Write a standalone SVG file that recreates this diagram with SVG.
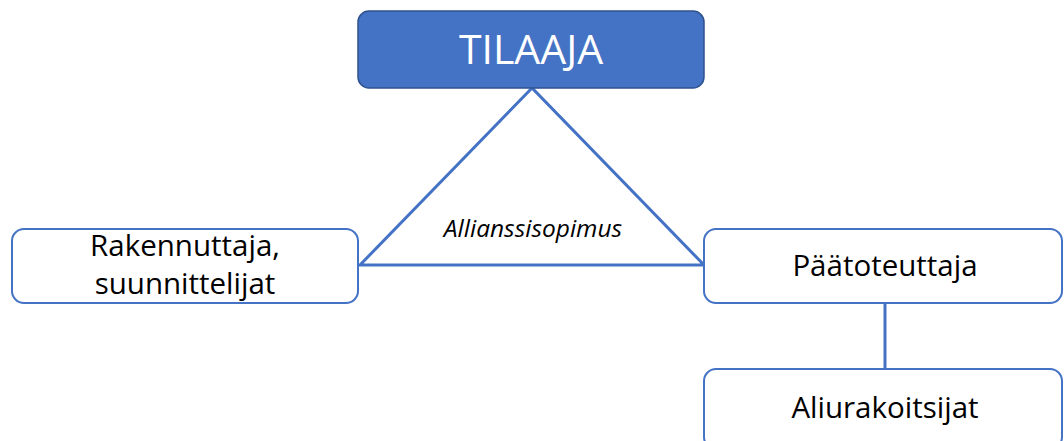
<svg xmlns="http://www.w3.org/2000/svg" width="1064" height="441" viewBox="0 0 1064 441">
<style>
.box{fill:#fff;stroke:#4472C4;stroke-width:2}
.conn{fill:none;stroke:#4472C4;stroke-width:3}
.t{font-family:"Open Sans","Liberation Sans",sans-serif;font-size:29.5px;fill:#000;text-anchor:middle}
</style>
<rect width="1064" height="441" fill="#fff"/>
<g id="connectors">
<polygon class="conn" points="532,88 360,265 704,265" stroke-linejoin="miter"/>
<line class="conn" x1="885" y1="303" x2="885" y2="369" stroke-width="2.5"/>
<text x="533" y="237" font-family="'Open Sans','Liberation Sans',sans-serif" font-style="italic" font-size="24.5" text-anchor="middle" fill="#000">Allianssisopimus</text>
</g>
<g id="tilaaja">
<rect x="358" y="11" width="346" height="77" rx="11" fill="#4472C4" stroke="#2F528F" stroke-width="1.5"/>
<text x="531" y="64" font-family="'Open Sans','Liberation Sans',sans-serif" font-size="41" text-anchor="middle" fill="#fff">TILAAJA</text>
</g>
<g id="rakennuttaja">
<rect class="box" x="12" y="229" width="346" height="74" rx="12"/>
<text class="t" x="185" y="256">Rakennuttaja,</text>
<text class="t" x="185" y="294">suunnittelijat</text>
</g>
<g id="paatoteuttaja">
<rect class="box" x="704" y="229" width="358" height="74" rx="12"/>
<text class="t" x="885" y="276">Päätoteuttaja</text>
</g>
<g id="aliurakoitsijat">
<rect class="box" x="704" y="369" width="358" height="80" rx="12"/>
<text class="t" x="885" y="418">Aliurakoitsijat</text>
</g>
</svg>
